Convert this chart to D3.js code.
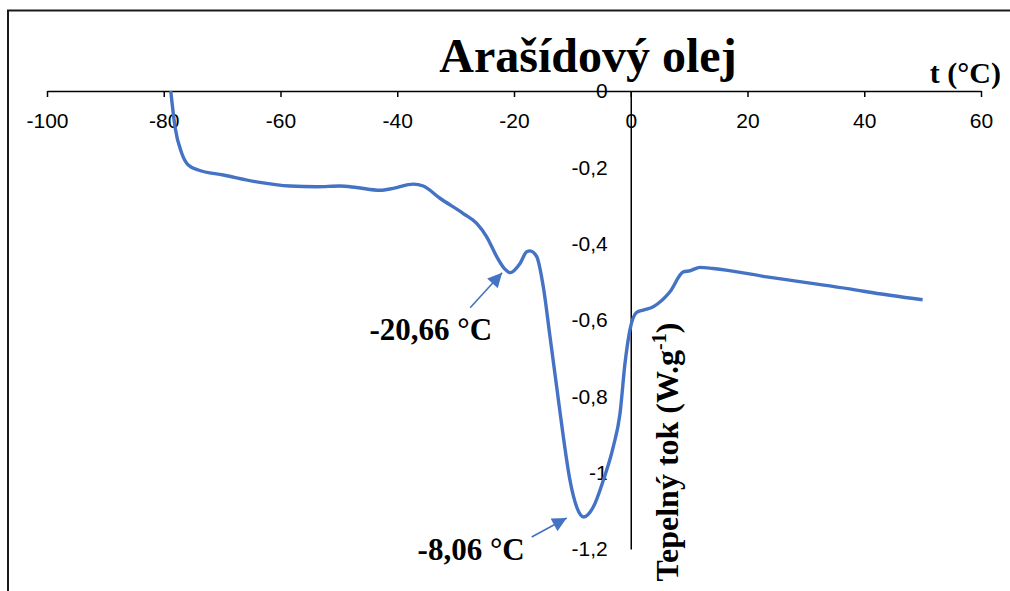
<!DOCTYPE html>
<html>
<head>
<meta charset="utf-8">
<script src="https://cdn.jsdelivr.net/npm/d3@7"></script>
<style>
  html, body { margin: 0; padding: 0; background: #fff; }
  svg { display: block; }
</style>
</head>
<body>
<svg id="chart" width="1010" height="591"></svg>
<script>
// ---- data ----
const temperature = [-78.8, -78.07, -76.92, -75.8, -74.08, -69.8, -64.08, -58.37, -53.8, -49.81, -46.95, -42.96, -40.68, -37.25, -35.54, -32.68, -28.69, -26.39, -24.68, -22.96, -21.6, -20.66, -18.97, -17.82, -17.26, -16.11, -14.98, -13.83, -12.69, -11.55, -10.41, -9.26, -8.06, -6.42, -4.7, -2.99, -1.84, -0.99, -0.13, 1.02, 2.15, 3.86, 6.72, 9.0, 10.15, 11.86, 14.14, 23.29, 39.27, 40.42, 50.0];
const heatFlow = [0.0, -0.094, -0.163, -0.194, -0.207, -0.22, -0.238, -0.249, -0.251, -0.249, -0.253, -0.26, -0.255, -0.244, -0.249, -0.281, -0.321, -0.347, -0.382, -0.434, -0.466, -0.476, -0.452, -0.421, -0.419, -0.434, -0.513, -0.644, -0.775, -0.906, -1.02, -1.09, -1.116, -1.09, -1.02, -0.932, -0.845, -0.714, -0.625, -0.58, -0.574, -0.565, -0.526, -0.474, -0.471, -0.462, -0.465, -0.487, -0.523, -0.526, -0.547];
const xTicks = [-100, -80, -60, -40, -20, 0, 20, 40, 60];
const xTickLabels = ["-100", "-80", "-60", "-40", "-20", "0", "20", "40", "60"];
const yTicks = [0, -0.2, -0.4, -0.6, -0.8, -1, -1.2];
const yTickLabels = ["0", "-0,2", "-0,4", "-0,6", "-0,8", "-1", "-1,2"];
const peakTemps = [-20.66, -8.06];
const peakValues = [-0.476, -1.116];
const peakLabels = ["-20,66 °C", "-8,06 °C"];
const titleText = "Arašídový olej";
const xTitle = "t (°C)";
const yTitle = "Tepelný tok (W.g";

// ---- drawing ----
const svg = d3.select("#chart");
const BLUE = "#4472C4";
const AXIS = "#000";
const SERIF = "'Liberation Serif', 'Times New Roman', serif";
const SANS = "'Liberation Sans', Arial, sans-serif";

// outer frame (top and left edges visible)
svg.append("path")
  .attr("d", "M8,591 L8,10.5 L1010,10.5")
  .attr("fill", "none").attr("stroke", "#1a1a1a").attr("stroke-width", 2);

const x = d3.scaleLinear().domain([-100, 60]).range([47, 981]);
const y = d3.scaleLinear().domain([-1.2, 0]).range([549, 91]);

// x axis at y = 0
const gx = svg.append("g")
  .attr("transform", `translate(0,${y(0)})`)
  .call(d3.axisBottom(x).tickValues(xTicks).tickSize(6).tickSizeOuter(0).tickPadding(16)
    .tickFormat((d, i) => xTickLabels[i]));
gx.select(".domain").attr("stroke", AXIS).attr("stroke-width", 1.5);
gx.selectAll(".tick line").attr("stroke", AXIS).attr("stroke-width", 1.5);
gx.selectAll(".tick text").attr("font-family", SANS).attr("font-size", 21).attr("fill", "#000");

// y axis at x = 0
const gy = svg.append("g")
  .attr("transform", `translate(${x(0)},0)`)
  .call(d3.axisLeft(y).tickValues(yTicks).tickSize(0).tickSizeOuter(0).tickPadding(23)
    .tickFormat((d, i) => yTickLabels[i]));
gy.select(".domain").attr("stroke", AXIS).attr("stroke-width", 1.5);
gy.selectAll(".tick text").attr("font-family", SANS).attr("font-size", 21).attr("fill", "#000");

// curve
const pts = temperature.map((t, i) => [t, heatFlow[i]]);
svg.append("path")
  .datum(pts)
  .attr("fill", "none")
  .attr("stroke", BLUE)
  .attr("stroke-width", 3.4)
  .attr("stroke-linejoin", "round")
  .attr("d", d3.line().x(d => x(d[0])).y(d => y(d[1])).curve(d3.curveMonotoneX));

// title
svg.append("text")
  .attr("x", 588).attr("y", 72)
  .attr("text-anchor", "middle")
  .attr("font-family", SERIF).attr("font-weight", "bold").attr("font-size", 48)
  .text(titleText);

svg.append("text")
  .attr("x", 1001).attr("y", 83)
  .attr("text-anchor", "end")
  .attr("font-family", SERIF).attr("font-weight", "bold").attr("font-size", 30)
  .text(xTitle);

// y title (rotated)
const yt = svg.append("text")
  .attr("transform", "translate(678,452) rotate(-90)")
  .attr("text-anchor", "middle")
  .attr("font-family", SERIF).attr("font-weight", "bold").attr("font-size", 32);
yt.append("tspan").text(yTitle);
yt.append("tspan").attr("font-size", 20).attr("dy", -12).text("-1");
yt.append("tspan").attr("dy", 12).text(")");

// annotations
const defs = svg.append("defs");
defs.append("marker")
  .attr("id", "arrow").attr("viewBox", "0 0 10 10")
  .attr("refX", 10).attr("refY", 5)
  .attr("markerWidth", 10).attr("markerHeight", 9)
  .attr("markerUnits", "strokeWidth")
  .attr("orient", "auto")
  .append("path").attr("d", "M0,0 L10,5 L0,10 Z").attr("fill", BLUE);

const annOffsets = [
  { tipDx: -8, tipDy: 0, tailDx: -40, tailDy: 35, labX: -18, labY: 67 },
  { tipDx: -17, tipDy: 1, tailDx: -52, tailDy: 20, labX: -59, labY: 43 }
];
peakTemps.forEach((t, i) => {
  const px = x(t), py = y(peakValues[i]);
  const o = annOffsets[i];
  svg.append("line")
    .attr("x1", px + o.tailDx).attr("y1", py + o.tailDy)
    .attr("x2", px + o.tipDx).attr("y2", py + o.tipDy)
    .attr("stroke", BLUE).attr("stroke-width", 1.6)
    .attr("marker-end", "url(#arrow)");
  svg.append("text")
    .attr("x", px + o.labX).attr("y", py + o.labY)
    .attr("text-anchor", "end")
    .attr("font-family", SERIF).attr("font-weight", "bold").attr("font-size", 31)
    .text(peakLabels[i]);
});
</script>
</body>
</html>
